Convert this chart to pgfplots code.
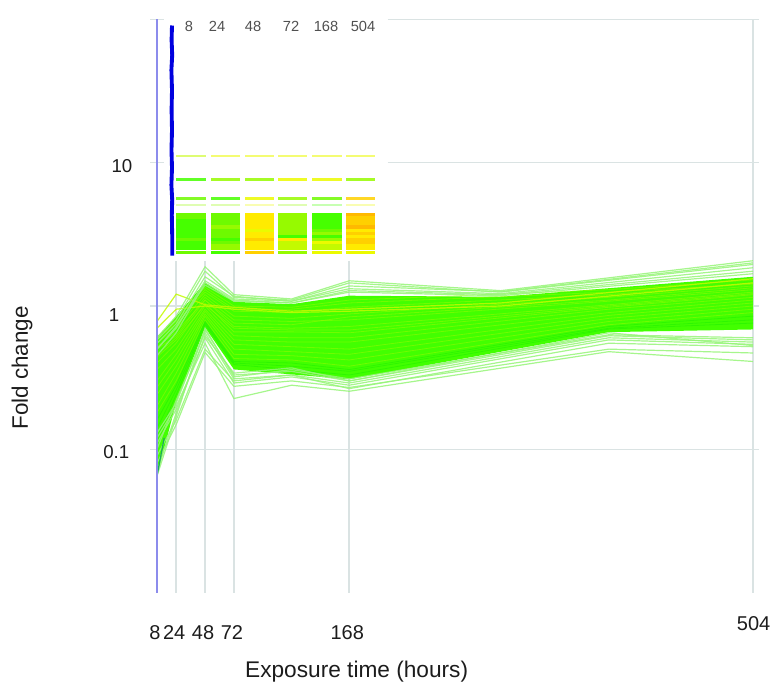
\documentclass[border=0pt]{standalone}
\usepackage{pgfplots}
\pgfplotsset{compat=1.18}
\usepackage{fontspec}
\setmainfont{Liberation Sans}
\definecolor{gridc}{RGB}{218,227,227}
\definecolor{txt}{RGB}{28,28,28}
\definecolor{ltop}{RGB}{150,245,120}
\definecolor{corec}{RGB}{66,255,0}
\definecolor{inner}{RGB}{150,250,0}
\definecolor{inner2}{RGB}{30,240,0}
\definecolor{tipc}{RGB}{30,170,90}
\definecolor{lblue}{RGB}{140,140,236}
\definecolor{dblue}{RGB}{0,0,222}
\definecolor{insetg}{RGB}{80,80,80}
\definecolor{ga}{RGB}{70,255,0}
\definecolor{gb}{RGB}{110,250,0}
\definecolor{gc}{RGB}{150,250,0}
\definecolor{gd}{RGB}{195,250,0}
\definecolor{ye}{RGB}{235,250,0}
\definecolor{yf}{RGB}{255,235,0}
\definecolor{og}{RGB}{255,208,0}
\definecolor{oh}{RGB}{255,185,0}
% one probe across the time points
\newcommand{\gl}[9][ltop]{\addplot[draw=#1,line width=0.9pt,opacity=0.85] coordinates {(8,#2)(24,#3)(48,#4)(72,#5)(120,#6)(168,#7)(384,#8)(504,#9)};}
\newcommand{\glu}[9][ltop]{\addplot[draw=#1,line width=0.9pt,opacity=0.85] coordinates {(8,#2)(24,#3)(48,#4)(72,#5)(120,#6)(168,#7)(294,#8)(504,#9)};}
\newcommand{\gi}[9][inner]{\addplot[draw=#1,line width=0.6pt,opacity=0.55] coordinates {(8,#2)(24,#3)(48,#4)(72,#5)(120,#6)(168,#7)(384,#8)(504,#9)};}
% heat-map cell
\newcommand{\cell}[6]{\addplot[draw=none,fill=#5,fill opacity=#6,forget plot] coordinates {(#1,#3)(#2,#3)(#2,#4)(#1,#4)} --cycle;}
\newcommand{\hrow}[8]{%
 \cell{176}{206}{#1}{#2}{#3}{1}\cell{211}{240}{#1}{#2}{#4}{1}\cell{245}{274}{#1}{#2}{#5}{1}%
 \cell{278}{307}{#1}{#2}{#6}{1}\cell{312}{342}{#1}{#2}{#7}{1}\cell{346}{375}{#1}{#2}{#8}{1}}
\newcommand{\hpale}[9]{%
 \cell{176}{206}{#1}{#2}{#3}{#9}\cell{211}{240}{#1}{#2}{#4}{#9}\cell{245}{274}{#1}{#2}{#5}{#9}%
 \cell{278}{307}{#1}{#2}{#6}{#9}\cell{312}{342}{#1}{#2}{#7}{#9}\cell{346}{375}{#1}{#2}{#8}{#9}}
\begin{document}
\begin{tikzpicture}[x=1pt,y=1pt]
\path[use as bounding box] (-117.75,-73.125) rectangle (470.25,444.375);
\begin{axis}[
  name=main, at={(0,0)}, anchor=south west,
  scale only axis, width=447pt, height=429.75pt,
  xmin=8, xmax=504, ymin=0.01, ymax=100, ymode=log,
  clip=false,
  axis line style={draw=none}, major tick length=0pt, minor tick length=0pt,
  xtick={8,24,48,72,168}, xticklabels={8,24,48,72,168},
  extra x ticks={504}, extra x tick labels={504},
  extra x tick style={xticklabel style={yshift=7.25pt,xshift=2pt}},
  ytick={0.1,1,10}, yticklabels={0.1\hspace*{2.25pt},\raisebox{-9.5pt}[0pt][0pt]{1}\hspace*{9.75pt},10},
  xticklabel style={font=\fontsize{15}{15}\selectfont,text=txt,yshift=-21.5pt,xshift=-1.5pt,anchor=north},
  yticklabel style={font=\fontsize{14}{14}\selectfont,text=txt,xshift=-15pt,yshift=-2.25pt},
  xlabel={Exposure time (hours)}, ylabel={Fold change},
  xlabel style={font=\fontsize{17}{17}\selectfont,text=txt,at={(axis description cs:0.335,-0.138)},anchor=center},
  ylabel style={font=\fontsize{16.8}{16.8}\selectfont,text=txt,at={(axis description cs:-0.2265,0.392)},anchor=center},
  every axis plot/.append style={forget plot},
]
% grid segments
\addplot[draw=gridc,line width=1.6pt] coordinates {(24,0.01)(24,2.05)};
\addplot[draw=gridc,line width=1.6pt] coordinates {(48,0.01)(48,2.05)};
\addplot[draw=gridc,line width=1.6pt] coordinates {(72,0.01)(72,2.05)};
\addplot[draw=gridc,line width=1.6pt] coordinates {(168,0.01)(168,2.05)};
\addplot[draw=gridc,line width=1.6pt] coordinates {(504,0.01)(504,100)};
\addplot[draw=gridc,line width=1.1pt] coordinates {(2.2,1)(509,1)};
\addplot[draw=gridc,line width=1.1pt] coordinates {(2.2,0.1)(509,0.1)};
\addplot[draw=gridc,line width=1.1pt] coordinates {(2.2,10)(14,10)};
\addplot[draw=gridc,line width=1.1pt] coordinates {(200,10)(509,10)};
\addplot[draw=gridc,line width=1.1pt] coordinates {(2.2,100)(14,100)};
\addplot[draw=gridc,line width=1.1pt] coordinates {(200,100)(509,100)};
% envelope of the dense bundle
\addplot[draw=none,fill=corec] coordinates {(8,.61)(24,.845)(48,1.46)(72,1.07)(120,1.03)(168,1.18)(294,1.16)(504,1.6)(504,.686)(384,.657)(168,.308)(120,.333)(72,.361)(48,.708)(24,.213)(8,.065)} --cycle;
% texture inside the bundle
\gi[gc]{.6}{.82}{1.35}{1.0}{.98}{1.1}{1.3}{1.52}
\gi[gc]{.58}{.78}{1.25}{.92}{.9}{.98}{1.2}{1.45}
\gi{.55}{.7}{1.2}{.85}{.82}{.88}{1.15}{1.38}
\gi{.5}{.62}{1.15}{.8}{.78}{.8}{1.08}{1.3}
\gi{.46}{.6}{1.1}{.72}{.7}{.72}{1.02}{1.25}
\gi{.4}{.55}{1.05}{.66}{.66}{.65}{.98}{1.2}
\gi{.36}{.5}{1.0}{.62}{.6}{.6}{.95}{1.15}
\gi{.3}{.46}{.95}{.58}{.56}{.56}{.9}{1.1}
\gi{.27}{.42}{.92}{.54}{.52}{.5}{.86}{1.05}
\gi{.24}{.38}{.88}{.5}{.48}{.46}{.82}{1.0}
\gi{.2}{.34}{.85}{.46}{.45}{.42}{.78}{.95}
\gi{.18}{.3}{.8}{.43}{.42}{.38}{.74}{.9}
\gi[inner2]{.16}{.28}{.78}{.41}{.4}{.36}{.72}{.85}
\gi[inner2]{.14}{.26}{.76}{.4}{.38}{.35}{.7}{.8}
\gi[inner2]{.12}{.24}{.74}{.39}{.36}{.33}{.69}{.76}
\gi{.59}{.75}{1.3}{.95}{.95}{1.05}{1.25}{1.42}
\gi{.52}{.66}{1.1}{.76}{.74}{.84}{1.1}{1.34}
\gi{.44}{.58}{1.02}{.7}{.68}{.68}{1.0}{1.22}
% separate probes along the edges
\glu[gd]{.78}{1.21}{1.02}{.98}{.92}{.95}{1.05}{1.55}
\glu[gd]{.7}{.95}{1.0}{.95}{.9}{.92}{1.0}{1.45}
\glu{.6}{.85}{1.88}{1.2}{1.12}{1.5}{1.28}{2.07}
\glu{.58}{.8}{1.75}{1.15}{1.1}{1.45}{1.25}{1.95}
\glu{.55}{.75}{1.6}{1.17}{1.08}{1.38}{1.26}{2.0}
\glu{.5}{.7}{1.5}{1.12}{1.08}{1.32}{1.22}{1.85}
\glu{.45}{.65}{1.45}{1.1}{1.05}{1.28}{1.2}{1.75}
\glu{.5}{.72}{1.4}{1.08}{1.05}{1.25}{1.18}{1.68}
\gl{.12}{.2}{.55}{.226}{.28}{.254}{.48}{.41}
\gl{.08}{.149}{.474}{.275}{.3}{.27}{.5}{.47}
\gl{.09}{.16}{.5}{.3}{.33}{.265}{.55}{.52}
\gl{.11}{.19}{.6}{.29}{.32}{.28}{.58}{.54}
\gl{.1}{.22}{.65}{.31}{.33}{.29}{.6}{.56}
\gl{.13}{.21}{.68}{.33}{.35}{.3}{.62}{.58}
\gl{.065}{.17}{.7}{.32}{.36}{.31}{.63}{.6}
\gl{.07}{.18}{.62}{.34}{.37}{.3}{.65}{.53}
\addplot[draw=tipc,line width=0.9pt] coordinates {(8,.065)(14,.12)};
\addplot[draw=lblue,line width=2pt] coordinates {(8,.01)(8,100)};
\end{axis}
% heat map and its dendrogram, in reference pixels
\begin{axis}[
  at={(0,0)}, anchor=south west,
  scale only axis, width=447pt, height=429.75pt,
  xmin=157, xmax=753, ymin=19.5, ymax=592.5, y dir=reverse,
  hide axis, clip=false,
]
\hpale{155.4}{157.4}{gd}{ye}{ye}{ye}{ye}{ye}{.55}
\hpale{178}{181}{ga}{gc}{gc}{ye}{ye}{gc}{.85}
\hpale{196.6}{199.6}{gb}{ga}{ye}{gc}{gb}{og}{.85}
\hpale{204.4}{205.6}{gc}{gc}{ye}{gc}{ga}{ye}{.3}
\hrow{213}{216.3}{gb}{gb}{yf}{gc}{ga}{oh}
\hrow{216.1}{219.4}{gb}{gb}{yf}{gc}{ga}{og}
\hrow{219.2}{222.5}{ga}{gb}{yf}{gc}{ga}{og}
\hrow{222.3}{225.6}{ga}{gb}{yf}{gc}{ga}{og}
\hrow{225.4}{228.7}{ga}{gc}{yf}{gc}{ga}{oh}
\hrow{228.5}{231.8}{ga}{gb}{ye}{gc}{gb}{yf}
\hrow{231.6}{234.9}{ga}{gb}{yf}{gc}{gc}{og}
\hrow{234.7}{238}{ga}{gb}{yf}{ga}{ga}{yf}
\hrow{237.8}{241.1}{gb}{ga}{og}{yf}{gc}{og}
\hrow{240.9}{244.2}{ga}{gb}{yf}{gd}{ye}{og}
\hrow{244}{249.5}{ga}{gc}{yf}{gd}{gd}{yf}
\hrow{250.8}{254}{gb}{ga}{og}{gc}{ye}{ye}
\addplot[draw=dblue,line width=2.9pt,forget plot] coordinates {(172,25.5)(171.6,40)(172.2,55)(171.4,70)(172,90)(171.6,110)(172,130)(171.5,150)(172,168)(171.4,185)(172.2,200)(171.8,215)(172.2,235)(172.2,255.5)};
\node[font=\fontsize{11}{11}\selectfont,text=insetg] at (axis cs:189,26) {8};
\node[font=\fontsize{11}{11}\selectfont,text=insetg] at (axis cs:217,26) {24};
\node[font=\fontsize{11}{11}\selectfont,text=insetg] at (axis cs:253,26) {48};
\node[font=\fontsize{11}{11}\selectfont,text=insetg] at (axis cs:291,26) {72};
\node[font=\fontsize{11}{11}\selectfont,text=insetg] at (axis cs:326,26) {168};
\node[font=\fontsize{11}{11}\selectfont,text=insetg] at (axis cs:363,26) {504};
\end{axis}
\end{tikzpicture}
\end{document}
